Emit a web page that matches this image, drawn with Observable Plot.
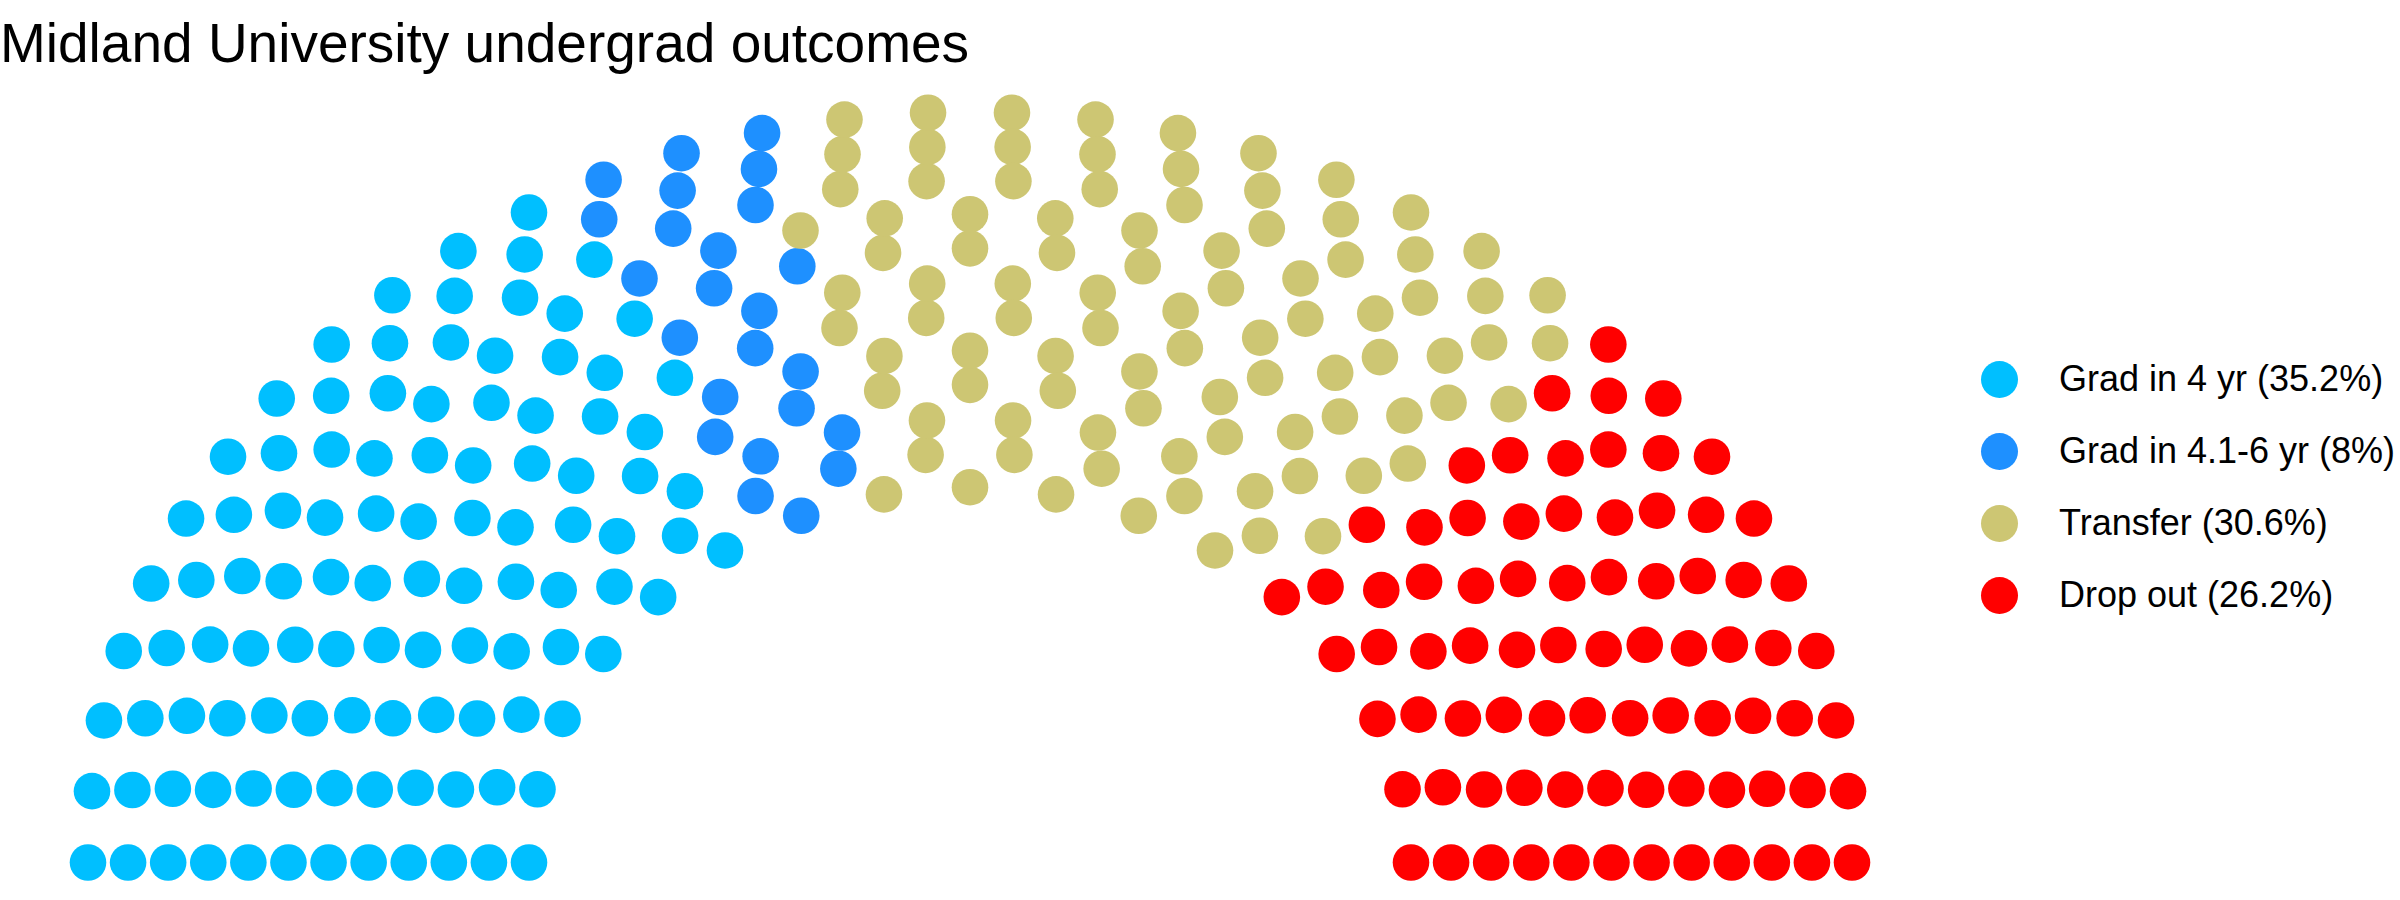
<!DOCTYPE html>
<html>
<head>
<meta charset="utf-8">
<script src="https://cdn.jsdelivr.net/npm/d3@7"></script>
<script src="https://cdn.jsdelivr.net/npm/@observablehq/plot@0.6"></script>
<style>
  html, body { margin: 0; padding: 0; background: #ffffff; }
  body { font-family: "Liberation Sans", Arial, Helvetica, sans-serif; }
  #wrap { position: relative; width: 2400px; height: 900px; overflow: hidden; }
  #chart { position: absolute; left: 0; top: 0; }
  #title { position: absolute; left: 0; top: 16px; font-size: 55px; line-height: 55px; color: #000; white-space: nowrap; }
  #legend { position: absolute; left: 0; top: 0; }
  .item { position: absolute; display: flex; align-items: center; height: 40px; }
  .sw { width: 37px; height: 37px; border-radius: 50%; }
  .lab { position: absolute; left: 79px; font-size: 36px; line-height: 40px; white-space: nowrap; color: #000; }
</style>
</head>
<body>
<div id="wrap">
  <div id="chart"></div>
  <div id="title">Midland University undergrad outcomes</div>
  <div id="legend"></div>
</div>
<script>
// ---- data ----
const categories = ["Grad in 4 yr", "Grad in 4.1-6 yr", "Transfer", "Drop out"];
const seats = [106, 24, 92, 79];
const colors = ["#00BFFF", "#1E90FF", "#CDC673", "#FF0000"];
const parlRows = 12;

// ---- semicircle parliament layout (concentric rows, radii 1..2) ----
function parliamentLayout(N, M) {
  const radii = d3.range(M).map(i => 1 + i / (M - 1));
  let remaining = N;
  const pts = [];
  radii.forEach((r, i) => {
    const rest = d3.sum(radii.slice(i));
    const n = Math.round(remaining * r / rest);
    remaining -= n;
    for (let j = 0; j < n; j++) {
      const th = n > 1 ? (j === n - 1 ? Math.PI : j * Math.PI / (n - 1)) : 0;
      pts.push({x: r * Math.cos(th), y: r * Math.sin(th), row: i + 1, theta: th});
    }
  });
  pts.sort((a, b) => (b.theta - a.theta) || (b.row - a.row));
  return pts;
}

const total = d3.sum(seats);
const pts = parliamentLayout(total, parlRows);
const partyOf = categories.flatMap((c, i) => Array(seats[i]).fill(c));
pts.forEach((p, i) => { p.party = partyOf[i]; });

const chart = Plot.plot({
  width: 2400,
  height: 900,
  margin: 0,
  x: {domain: [-2, 2], range: [87.5, 1851.5], axis: null},
  y: {domain: [0, 2], range: [862, 111.4], axis: null},
  color: {domain: categories, range: colors},
  marks: [
    Plot.dot(pts, {x: "x", y: "y", r: 18.3, fill: "party", stroke: null})
  ]
});
document.getElementById("chart").appendChild(chart);

// ---- legend ----
const legend = d3.select("#legend");
categories.forEach((c, i) => {
  const pct = Math.round(seats[i] / total * 1000) / 10;
  const item = legend.append("div").attr("class", "item")
    .style("left", "1980px").style("top", (379 + i * 72 - 20) + "px");
  item.append("div").attr("class", "sw").style("background", colors[i]).style("margin-left", "0.5px");
  item.append("div").attr("class", "lab").text(`${c} (${pct}%)`);
});
</script>
</body>
</html>
